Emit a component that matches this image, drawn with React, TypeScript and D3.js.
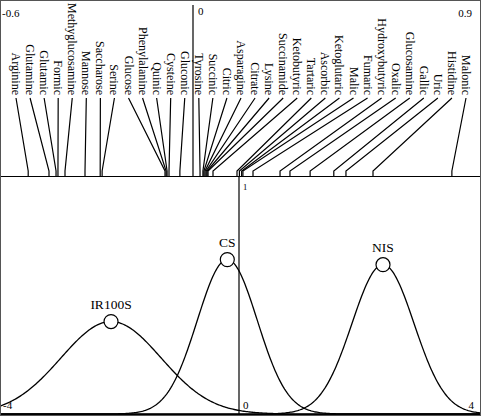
import React from 'react';
import * as d3 from 'd3';

const labels = [
  'Arginine', 'Glutamine', 'Glutamic', 'Formic', 'Methyglucosamine', 'Mannose', 'Saccharose', 'Serine',
  'Glucose', 'Phenylalanine', 'Quinic', 'Cysteine', 'Gluconic', 'Tyrosine', 'Succinic', 'Citric',
  'Asparagine', 'Citrate', 'Lysine', 'Succinamide', 'Ketobutyric', 'Tartaric', 'Ascorbic', 'Ketoglutaric',
  'Malic', 'Fumaric', 'Hydroxybutyric', 'Oxalic', 'Glucosamine', 'Gallic', 'Uric', 'Histidine', 'Malonic',
];
const values = [
  -0.515, -0.45, -0.428, -0.422, -0.4, -0.3375, -0.29, -0.284,
  -0.0875, -0.084, -0.081, -0.075, -0.041, 0.022, 0.031, 0.034,
  0.0375, 0.041, 0.044, 0.047, 0.0625, 0.1375, 0.145, 0.152,
  0.156, 0.1875, 0.272, 0.303, 0.366, 0.44, 0.478, 0.5625, 0.809,
];
const groups = ['IR100S', 'CS', 'NIS'];
const groupMeans = [-2.133, -0.195, 2.4];
const groupSds = [0.835, 0.5, 0.517];
const topTicks = [-0.6, 0, 0.9];
const bottomTicks = [-4, 0, 4];
const bottomYTick = 1;

const W = 482;
const H = 416;

export default function App() {
  const xTop = d3.scaleLinear().domain([-0.6, 0.9]).range([1, 481]);
  const xLab = d3.scalePoint<string>().domain(labels).range([16, 466]);
  const xB = d3.scaleLinear().domain([-4, 4]).range([-1, 479]);
  const yB = d3.scaleLinear().domain([0, 1.23]).range([414, 176]);

  const topY = 176;
  const labelEnd = 95;
  const lineStart = 98;
  const bend = 171;

  const xs = d3.range(-4.3, 4.3001, 0.02);
  const line = d3
    .line<[number, number]>()
    .x((d) => xB(d[0]))
    .y((d) => yB(d[1]));

  const dens = (x: number, m: number, s: number) =>
    Math.exp(-((x - m) ** 2) / (2 * s * s)) / (s * Math.sqrt(2 * Math.PI));

  const font = 'Liberation Serif, DejaVu Serif, serif';

  return (
    <svg
      width={W}
      height={H}
      style={{ position: 'absolute', left: 0, top: 0, background: '#fff', fontFamily: font }}
    >
      <defs>
        <clipPath id="bclip">
          <rect x={1} y={177} width={479} height={238} />
        </clipPath>
      </defs>
      <rect x={0} y={0} width={W} height={H} fill="#fff" />

      {/* top panel: zero axis */}
      <line x1={xTop(0)} x2={xTop(0)} y1={5} y2={topY} stroke="#000" strokeWidth={1.2} />

      {/* label connectors */}
      {labels.map((lab, i) => {
        const xl = xLab(lab)!;
        const xv = xTop(values[i]);
        return (
          <polyline
            key={'l' + lab}
            points={`${xl},${lineStart} ${xv},${bend} ${xv},${topY}`}
            fill="none"
            stroke="#000"
            strokeWidth={1.2}
          />
        );
      })}
      {labels.map((lab) => (
        <text
          key={'t' + lab}
          transform={`translate(${xLab(lab)},${labelEnd}) rotate(90)`}
          textAnchor="end"
          dy="0.33em"
          fontSize={12}
          fill="#000"
          style={{ fontFamily: font }}
        >
          {lab}
        </text>
      ))}

      {/* top tick labels */}
      <text x={xTop(topTicks[0]) + 1} y={17} fontSize={11} textAnchor="start" style={{ fontFamily: font }}>
        {topTicks[0]}
      </text>
      <text x={xTop(topTicks[1]) + 5} y={15} fontSize={11} textAnchor="start" style={{ fontFamily: font }}>
        {topTicks[1]}
      </text>
      <text x={xTop(topTicks[2]) - 9} y={17} fontSize={11} textAnchor="end" style={{ fontFamily: font }}>
        {topTicks[2]}
      </text>

      {/* bottom panel */}
      <line x1={xB(0)} x2={xB(0)} y1={topY} y2={414} stroke="#000" strokeWidth={1.2} />
      <g clipPath="url(#bclip)">
        {groups.map((g, i) => (
          <path
            key={'c' + g}
            d={line(xs.map((x) => [x, dens(x, groupMeans[i], groupSds[i])] as [number, number])) || ''}
            fill="none"
            stroke="#000"
            strokeWidth={1.3}
          />
        ))}
      </g>
      {groups.map((g, i) => {
        const cx = xB(groupMeans[i]);
        const cy = yB(dens(groupMeans[i], groupMeans[i], groupSds[i]));
        return (
          <g key={'g' + g}>
            <circle cx={cx} cy={cy} r={7} fill="#fff" stroke="#000" strokeWidth={1.2} />
            <text x={cx} y={cy - 13} textAnchor="middle" fontSize={13.5} fill="#000" style={{ fontFamily: font }}>
              {g}
            </text>
          </g>
        );
      })}

      {/* bottom tick labels */}
      <text x={xB(0) + 4} y={190} fontSize={8.5} textAnchor="start" style={{ fontFamily: font }}>
        {bottomYTick}
      </text>
      <text x={3} y={409} fontSize={11} textAnchor="start" style={{ fontFamily: font }}>
        {bottomTicks[0]}
      </text>
      <text x={xB(bottomTicks[1]) + 4} y={409} fontSize={11} textAnchor="start" style={{ fontFamily: font }}>
        {bottomTicks[1]}
      </text>
      <text x={474} y={409} fontSize={11} textAnchor="end" style={{ fontFamily: font }}>
        {bottomTicks[2]}
      </text>

      {/* frames */}
      <line x1={1} x2={480} y1={topY + 0.5} y2={topY + 0.5} stroke="#000" strokeWidth={1.2} />
      <line x1={1} x2={480} y1={414.5} y2={414.5} stroke="#000" strokeWidth={1.5} />
      <rect x={0.5} y={0.5} width={480} height={415} fill="none" stroke="#555" strokeWidth={1} />
    </svg>
  );
}
